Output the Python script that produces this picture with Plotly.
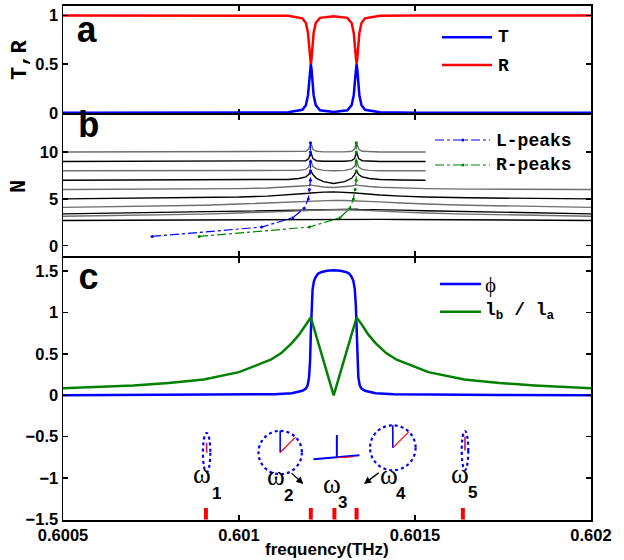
import plotly.graph_objects as go

# ---------------- data ----------------
# panel a : transmission / reflection
t_freq = [0.6005, 0.6010, 0.60114, 0.60118, 0.60119, 0.601196, 0.601200, 0.601202, 0.601204,
          0.601206, 0.601208, 0.601212, 0.601218, 0.60123, 0.601269, 0.601308, 0.60132,
          0.601326, 0.60133, 0.601332, 0.601334, 0.601336, 0.601338, 0.601342, 0.601348,
          0.601358, 0.6014, 0.6015, 0.602]
T_vals = [0.0, 0.0005, 0.004, 0.03, 0.078, 0.18, 0.35, 0.45, 0.50, 0.45, 0.35, 0.18, 0.078, 0.025,
          0.008, 0.025, 0.078, 0.18, 0.35, 0.45, 0.50, 0.45, 0.35, 0.18, 0.078, 0.03, 0.004, 0.0005, 0.0]
R_vals = [1.0, 0.9995, 0.996, 0.97, 0.922, 0.82, 0.65, 0.55, 0.50, 0.55, 0.65, 0.82, 0.922, 0.975,
          0.992, 0.975, 0.922, 0.82, 0.65, 0.55, 0.50, 0.55, 0.65, 0.82, 0.922, 0.97, 0.996, 0.9995, 1.0]

# panel b : family of N curves
n_freq = [0.6005, 0.6007, 0.6009, 0.6010, 0.60108, 0.60114, 0.60117, 0.60119, 0.601198, 0.601204,
          0.60121, 0.60122, 0.60124, 0.601269, 0.60130, 0.60132, 0.601328, 0.601334, 0.60134,
          0.60135, 0.60137, 0.60140, 0.60146, 0.60153, 0.60165, 0.60185, 0.602]
N10 = [10, 10, 10, 10, 10, 10, 10.03, 10.08, 10.3, 11.0, 10.3, 10.08, 10.02, 10.0,
       10.02, 10.08, 10.3, 11.0, 10.3, 10.08, 10.03, 10, 10, 10, None, None, None]
N9 = [9, 9, 9, 9, 9, 9, 9.03, 9.08, 9.3, 10.0, 9.3, 9.08, 9.02, 9.0,
      9.02, 9.08, 9.3, 10.0, 9.3, 9.08, 9.03, 9, 9, 9, None, None, None]
N8 = [8, 8, 8, 8, 8, 8.01, 8.05, 8.15, 8.4, 9.1, 8.45, 8.2, 8.05, 8.0,
      8.05, 8.2, 8.45, 9.1, 8.4, 8.15, 8.05, 8.01, 8, 8, None, None, None]
N7 = [7, 7, 7, 7, 7.02, 7.08, 7.18, 7.35, 7.6, 8.0, 7.6, 7.2, 6.85, 6.65,
      6.85, 7.2, 7.6, 8.0, 7.6, 7.35, 7.18, 7.08, 7.02, 7.0, None, None, None]
N6 = [6.0, 6.02, 6.05, 6.1, 6.16, 6.25, 6.32, 6.4, 6.45, 6.5, 6.45, 6.38, 6.28, 6.22,
      6.28, 6.38, 6.45, 6.5, 6.45, 6.4, 6.32, 6.25, 6.16, 6.1, 6.05, 6.02, 6.0]
N5 = [5.0, 5.05, 5.12, 5.2, 5.3, 5.42, 5.5, 5.56, 5.6, 5.63, 5.65, 5.68, 5.72, 5.75,
      5.72, 5.68, 5.65, 5.63, 5.6, 5.56, 5.5, 5.42, 5.3, 5.2, 5.12, 5.05, 5.0]
N4 = [4.1, 4.2, 4.33, 4.45, 4.57, 4.68, 4.73, 4.77, 4.78, 4.79, 4.8, 4.81, 4.83, 4.85,
      4.83, 4.81, 4.8, 4.79, 4.78, 4.77, 4.73, 4.68, 4.57, 4.45, 4.33, 4.2, 4.1]
N3 = [3.4, 3.52, 3.65, 3.74, 3.8, 3.85, 3.87, 3.88, 3.88, 3.89, 3.89, 3.89, 3.9, 3.9,
      3.9, 3.89, 3.89, 3.89, 3.88, 3.88, 3.87, 3.85, 3.8, 3.74, 3.65, 3.52, 3.4]
N2 = [3.15, 3.25, 3.38, 3.5, 3.6, 3.7, 3.76, 3.8, 3.82, 3.83, 3.83, 3.84, 3.85, 3.86,
      3.85, 3.84, 3.83, 3.83, 3.82, 3.8, 3.76, 3.7, 3.6, 3.5, 3.38, 3.25, 3.15]
N1 = [2.7, 2.73, 2.76, 2.78, 2.8, 2.82, 2.83, 2.84, 2.84, 2.84, 2.85, 2.85, 2.85, 2.86,
      2.85, 2.85, 2.85, 2.84, 2.84, 2.84, 2.83, 2.82, 2.8, 2.78, 2.76, 2.73, 2.7]
n_curves = [N10, N9, N8, N7, N6, N5, N4, N3, N2, N1]
n_colors = ["#6e6e6e", "#000000", "#6e6e6e", "#000000", "#6e6e6e",
            "#000000", "#6e6e6e", "#000000", "#6e6e6e", "#000000"]

lpeak_freq = [0.600753, 0.601065, 0.601153, 0.601185, 0.601197, 0.601200,
              0.601203, 0.601203, 0.601203, 0.601203, 0.601203]
lpeak_n = [1, 2, 3, 4, 5, 6, 7, 8, 9, 10, 11]
rpeak_freq = [0.600887, 0.601200, 0.601287, 0.601315, 0.601325, 0.601330,
              0.601333, 0.601333, 0.601333, 0.601333, 0.601333]
rpeak_n = [1, 2, 3, 4, 5, 6, 7, 8, 9, 10, 11]

# panel c : phase and axis ratio
phi_freq = [0.6005, 0.6008, 0.6010, 0.60110, 0.60115, 0.60118, 0.60119, 0.601195, 0.601199,
            0.601202, 0.601204, 0.601206, 0.601209, 0.601213, 0.601218, 0.601225, 0.601235,
            0.60125, 0.601269, 0.601288, 0.601303, 0.601313, 0.60132, 0.601325, 0.601329,
            0.601332, 0.601334, 0.601336, 0.601339, 0.601343, 0.601348, 0.601358, 0.601388,
            0.60144, 0.60154, 0.60174, 0.602]
phi_vals = [0.0, 0.003, 0.007, 0.013, 0.025, 0.055, 0.08, 0.12, 0.22, 0.42, 0.75, 1.08, 1.28,
            1.38, 1.43, 1.47, 1.49, 1.505, 1.51, 1.505, 1.49, 1.47, 1.43, 1.38, 1.28, 1.08,
            0.75, 0.42, 0.22, 0.12, 0.08, 0.055, 0.025, 0.013, 0.007, 0.003, 0.0]
ratio_freq = [0.6005, 0.6006, 0.6007, 0.6008, 0.6009, 0.6010, 0.60105, 0.60109, 0.60112,
              0.60115, 0.60117, 0.60119, 0.601204, 0.601269, 0.601334, 0.601348, 0.601368,
              0.601388, 0.601418, 0.601448, 0.601488, 0.601538, 0.60164, 0.60174, 0.60184,
              0.60194, 0.602]
ratio_vals = [0.085, 0.10, 0.12, 0.15, 0.19, 0.28, 0.36, 0.43, 0.51, 0.63, 0.73, 0.86, 0.94,
              0.0, 0.94, 0.86, 0.73, 0.63, 0.51, 0.43, 0.36, 0.28, 0.19, 0.15, 0.12, 0.10, 0.085]

omega_freq = [0.600906, 0.601204, 0.601271, 0.601334, 0.601636]
omega_sub = ["1", "2", "3", "4", "5"]
omega_sym_f = [0.600895, 0.601106, 0.601263, 0.601426, 0.601627]
omega_sym_y = [-0.95, -0.98, -1.07, -0.96, -0.955]
omega_sub_f = [0.600935, 0.601140, 0.601295, 0.601459, 0.601664]
omega_sub_y = [-1.192, -1.208, -1.292, -1.192, -1.168]

# polarization glyphs (centers in data units, semi axes in pixels)
ell_f = [0.600908, 0.601117, 0.601437, 0.601642]
ell_y = [-0.693, -0.691, -0.634, -0.667]
ell_rx = [3.7, 21.7, 22.8, 3.3]
ell_ry = [19.7, 21.7, 22.5, 19.5]
lin_f, lin_y = 0.601278, -0.754

x_ticks = [0.6005, 0.601, 0.6015, 0.602]
x_tick_text = ["0.6005", "0.601", "0.6015", "0.602"]

# ---------------- layout geometry ----------------
W, H = 624, 560
X0, X1 = 63, 591
A_T, A_B = 5.7, 113.5
B_T, B_B = 114.5, 255.7
C_T, C_B = 258.3, 520.0
xr = [0.6005, 0.602]
ra = [-0.008, 1.1]
rb = [-1.06, 14.01]
rc = [-1.506, 1.655]

def px(x):
    return x / W

def py(y):
    return 1 - y / H

sx = (xr[1] - xr[0]) / (X1 - X0)
sy = (rc[1] - rc[0]) / (C_B - C_T)

BLUE = "rgb(0,0,255)"
RED = "rgb(255,0,0)"
GREEN = "rgb(0,128,0)"
TICKFONT = dict(family="Liberation Sans", size=16.5, color="black", weight="bold")
MONO = "Liberation Mono"

fig = go.Figure()

# panel a
fig.add_trace(go.Scatter(x=t_freq, y=T_vals, mode="lines", line=dict(color=BLUE, width=2.5),
                         xaxis="x", yaxis="y", showlegend=False))
fig.add_trace(go.Scatter(x=t_freq, y=R_vals, mode="lines", line=dict(color=RED, width=2.5),
                         xaxis="x", yaxis="y", showlegend=False))

# panel b
for vals, col in zip(n_curves, n_colors):
    fig.add_trace(go.Scatter(x=n_freq, y=vals, mode="lines", line=dict(color=col, width=1.4),
                             connectgaps=False, xaxis="x2", yaxis="y2", showlegend=False))
fig.add_trace(go.Scatter(x=lpeak_freq, y=lpeak_n, mode="lines+markers",
                         line=dict(color=BLUE, width=1.2, dash="dashdot"),
                         marker=dict(color=BLUE, size=3), xaxis="x2", yaxis="y2", showlegend=False))
fig.add_trace(go.Scatter(x=rpeak_freq, y=rpeak_n, mode="lines+markers",
                         line=dict(color=GREEN, width=1.2, dash="dashdot"),
                         marker=dict(color=GREEN, size=3), xaxis="x2", yaxis="y2", showlegend=False))

# panel c
fig.add_trace(go.Scatter(x=phi_freq, y=phi_vals, mode="lines", line=dict(color=BLUE, width=2.5),
                         xaxis="x3", yaxis="y3", showlegend=False))
fig.add_trace(go.Scatter(x=ratio_freq, y=ratio_vals, mode="lines", line=dict(color=GREEN, width=2.5),
                         xaxis="x3", yaxis="y3", showlegend=False))
bx, by = [], []
for f in omega_freq:
    bx += [f, f, None]
    by += [rc[0] + 0.006, -1.36, None]
fig.add_trace(go.Scatter(x=bx, y=by, mode="lines", line=dict(color=RED, width=4),
                         xaxis="x3", yaxis="y3", showlegend=False))

shapes = []
annotations = []

# polarization ellipses
for f, yv, rx, ry in zip(ell_f, ell_y, ell_rx, ell_ry):
    shapes.append(dict(type="circle", xref="x3", yref="y3",
                       x0=f - rx * sx, x1=f + rx * sx, y0=yv - ry * sy, y1=yv + ry * sy,
                       line=dict(color=BLUE, width=2.2, dash="dot")))
# omega1 / omega5 red axes
for i, ln in ((0, 10), (3, 14)):
    shapes.append(dict(type="line", xref="x3", yref="y3", x0=ell_f[i], x1=ell_f[i],
                       y0=ell_y[i], y1=ell_y[i] + ln * sy, line=dict(color="rgb(200,20,90)", width=1.6)))
# circles: blue vertical radius + red 45 deg radius
for i in (1, 2):
    f, yv, r = ell_f[i], ell_y[i], ell_ry[i]
    shapes.append(dict(type="line", xref="x3", yref="y3", x0=f, x1=f, y0=yv, y1=yv + r * sy,
                       line=dict(color=BLUE, width=1.6)))
    shapes.append(dict(type="line", xref="x3", yref="y3", x0=f, x1=f + 0.707 * r * sx,
                       y0=yv, y1=yv + 0.707 * r * sy, line=dict(color=RED, width=1.2)))
# linear polarization at omega3
shapes.append(dict(type="line", xref="x3", yref="y3", x0=lin_f - 23.4 * sx, x1=lin_f + 22.6 * sx,
                   y0=lin_y - 1.6 * sy, y1=lin_y + 2.4 * sy, line=dict(color=BLUE, width=2)))
shapes.append(dict(type="line", xref="x3", yref="y3", x0=lin_f, x1=lin_f,
                   y0=lin_y, y1=lin_y + 22.7 * sy, line=dict(color=BLUE, width=2)))
shapes.append(dict(type="line", xref="x3", yref="y3", x0=lin_f, x1=lin_f + 16.6 * sx,
                   y0=lin_y, y1=lin_y + 1.0 * sy, line=dict(color=RED, width=1.2)))

# arrows
for (hx, hy, tx, ty) in ((0.601183, -1.071, 0.601145, -0.923), (0.601355, -1.071, 0.601401, -0.923)):
    annotations.append(dict(x=hx, y=hy, ax=tx, ay=ty, xref="x3", yref="y3", axref="x3", ayref="y3",
                            showarrow=True, arrowhead=2, arrowsize=1.1, arrowwidth=1.3,
                            arrowcolor="black", text=""))

# omega labels
for f, yv in zip(omega_sym_f, omega_sym_y):
    annotations.append(dict(x=f, y=yv, xref="x3", yref="y3", text="ω", showarrow=False,
                            xanchor="center", yanchor="middle",
                            font=dict(family="Liberation Serif", size=27, color="black")))
for f, yv, s in zip(omega_sub_f, omega_sub_y, omega_sub):
    annotations.append(dict(x=f, y=yv, xref="x3", yref="y3", text=s, showarrow=False,
                            xanchor="center", yanchor="middle",
                            font=dict(family="Liberation Sans", size=17, color="black", weight="bold")))

# legends (drawn)
def leg_line(x0, x1, y, color, dash="solid", width=2.5):
    shapes.append(dict(type="line", xref="paper", yref="paper", x0=px(x0), x1=px(x1),
                       y0=py(y), y1=py(y), line=dict(color=color, width=width, dash=dash)))

def leg_text(x, y, text, size=18, family=MONO):
    annotations.append(dict(x=px(x), y=py(y), xref="paper", yref="paper", text=text,
                            showarrow=False, xanchor="left", yanchor="middle",
                            font=dict(family=family, size=size, color="black", weight="bold")))

leg_line(442, 492, 37.3, BLUE)
leg_text(496, 37.5, "T")
leg_line(442, 492, 65, RED)
leg_text(496, 65.5, "R")

leg_line(435, 490, 140, BLUE, "dashdot", 1.2)
leg_line(435, 490, 165, GREEN, "dashdot", 1.2)
for yy, cc in ((140, BLUE), (165, GREEN)):
    shapes.append(dict(type="circle", xref="paper", yref="paper", x0=px(461.5), x1=px(464.5),
                       y0=py(yy + 1.5), y1=py(yy - 1.5), fillcolor=cc, line=dict(width=0)))
leg_text(494, 140.5, "L-peaks")
leg_text(494, 165.5, "R-peaks")

leg_line(440, 481, 284, BLUE)
annotations.append(dict(x=px(483), y=py(285), xref="paper", yref="paper", text="ϕ",
                        showarrow=False, xanchor="left", yanchor="middle",
                        font=dict(family="Liberation Serif", size=21, color="black")))
leg_line(440, 481, 311.7, GREEN)
leg_text(483, 311.5, "l<sub>b</sub> / l<sub>a</sub>")

# panel letters
for x, y, t in ((87, 32, "a"), (89, 128, "b"), (89, 279, "c")):
    annotations.append(dict(x=px(x), y=py(y), xref="paper", yref="paper", text=t, showarrow=False,
                            xanchor="center", yanchor="middle",
                            font=dict(family=MONO, size=36, color="black", weight="bold")))

# axis titles
annotations.append(dict(x=px(21), y=py(60), xref="paper", yref="paper", text="T,R", textangle=-90,
                        xanchor="center", yanchor="middle", showarrow=False,
                        font=dict(family=MONO, size=22, color="black", weight="bold")))
annotations.append(dict(x=px(20), y=py(187), xref="paper", yref="paper", text="N", textangle=-90,
                        xanchor="center", yanchor="middle", showarrow=False,
                        font=dict(family=MONO, size=22, color="black", weight="bold")))
annotations.append(dict(x=px(327), y=py(549), xref="paper", yref="paper", text="frequency(THz)",
                        xanchor="center", yanchor="middle", showarrow=False,
                        font=dict(family="Liberation Sans", size=17, color="black", weight="bold")))

axis_common = dict(showline=True, linecolor="black", linewidth=1.5, mirror="ticks",
                   ticks="inside", ticklen=5, tickwidth=1.3, tickcolor="black", automargin=False,
                   showgrid=False, zeroline=False, tickfont=TICKFONT)

xdom = [px(X0), px(X1)]
fig.update_layout(
    template="none",
    width=W, height=H, margin=dict(l=0, r=0, t=0, b=0, pad=0), autosize=False,
    paper_bgcolor="white", plot_bgcolor="white", showlegend=False,
    xaxis=dict(domain=xdom, range=xr, anchor="y", tickvals=x_ticks, showticklabels=False, **axis_common),
    yaxis=dict(domain=[py(A_B), py(A_T)], range=ra, anchor="x", tickvals=[0, 0.5, 1],
               ticktext=["0", "0.5", "1"], **axis_common),
    xaxis2=dict(domain=xdom, range=xr, anchor="y2", tickvals=x_ticks, showticklabels=False, **axis_common),
    yaxis2=dict(domain=[py(B_B), py(B_T)], range=rb, anchor="x2", tickvals=[0, 5, 10],
                ticktext=["0", "5", "10"], **axis_common),
    xaxis3=dict(domain=xdom, range=xr, anchor="y3", tickvals=x_ticks, ticktext=x_tick_text, **axis_common),
    yaxis3=dict(domain=[py(C_B), py(C_T)], range=rc, anchor="x3",
                tickvals=[-1.5, -1, -0.5, 0, 0.5, 1, 1.5],
                ticktext=["−1.5", "−1", "−0.5", "0", "0.5", "1", "1.5"], **axis_common),
    shapes=shapes, annotations=annotations,
)

fig.write_html("out.html", config={"displayModeBar": False, "staticPlot": True},
               post_script="document.body.style.margin='0px';")
